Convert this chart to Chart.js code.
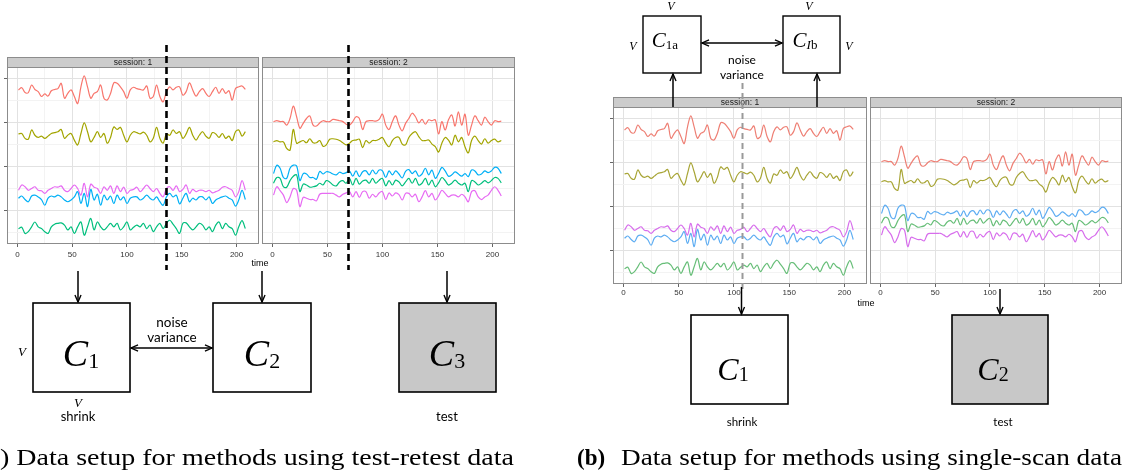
<!DOCTYPE html>
<html>
<head>
<meta charset="utf-8">
<script src="https://cdn.jsdelivr.net/npm/chart.js@4.4.1/dist/chart.umd.min.js"></script>
<style>
html,body{margin:0;padding:0;background:#fff;width:1126px;height:475px;overflow:hidden;position:relative}
canvas.facet{position:absolute;z-index:1}
svg#ov{position:absolute;left:0;top:0;z-index:5}
.v{font-family:"Liberation Serif",serif;font-style:italic;text-anchor:middle;fill:#000}
.sans{font-family:Lato,"Open Sans",sans-serif;text-anchor:middle;fill:#000}
.C{font-family:"Liberation Serif",serif;font-style:italic;text-anchor:middle;fill:#000}
.cap{font-family:"Liberation Serif",serif;font-size:23px;fill:#000}
.axt{font-family:"Liberation Sans",Arial,sans-serif;font-size:9px;text-anchor:middle;fill:#000}
</style>
</head>
<body>
<canvas id="a1" class="facet"></canvas>
<canvas id="a2" class="facet"></canvas>
<canvas id="b1" class="facet"></canvas>
<canvas id="b2" class="facet"></canvas>

<svg id="ov" width="1126" height="475" viewBox="0 0 1126 475">
<defs>
<marker id="ah" viewBox="0 0 10 10" refX="9.6" refY="5" markerWidth="8" markerHeight="8" markerUnits="userSpaceOnUse" orient="auto-start-reverse" overflow="visible">
<path d="M0.8,1.2 L9.6,5 L0.8,8.8" fill="none" stroke="#000" stroke-width="1.7"/>
</marker>
</defs>
<g id="dashes"></g>

<!-- panel (a) diagram -->
<g stroke="#000" stroke-width="1.5" fill="none">
<line x1="78" y1="271" x2="78" y2="302" marker-end="url(#ah)"/>
<line x1="262" y1="271" x2="262" y2="302" marker-end="url(#ah)"/>
<line x1="447" y1="271" x2="447" y2="302" marker-end="url(#ah)"/>
<line x1="131" y1="348" x2="212" y2="348" marker-start="url(#ah)" marker-end="url(#ah)"/>
</g>
<rect x="33" y="303" width="97" height="89" fill="#fff" stroke="#000" stroke-width="1.6"/>
<rect x="213" y="303" width="98" height="89" fill="#fff" stroke="#000" stroke-width="1.6"/>
<rect x="399" y="303" width="97" height="89" fill="#c8c8c8" stroke="#000" stroke-width="1.6"/>
<text class="C" x="81" y="366" font-size="38">C<tspan font-style="normal" font-size="22" dy="2">1</tspan></text>
<text class="C" x="262" y="366" font-size="38">C<tspan font-style="normal" font-size="22" dy="2">2</tspan></text>
<text class="C" x="447" y="366" font-size="38">C<tspan font-style="normal" font-size="22" dy="2">3</tspan></text>
<text class="sans" x="172" y="327" font-size="13.5">noise</text>
<text class="sans" x="172" y="342" font-size="13.5">variance</text>
<text class="v" x="22" y="356" font-size="13">V</text>
<text class="v" x="78" y="407" font-size="13">V</text>
<text class="sans" x="78" y="421" font-size="13">shrink</text>
<text class="sans" x="447" y="421" font-size="13">test</text>
<text class="axt" x="260" y="266">time</text>
<text class="cap" x="0" y="465" text-anchor="end">(a</text>
<text class="cap" x="0" y="465" textLength="514" lengthAdjust="spacingAndGlyphs">) Data setup for methods using test-retest data</text>

<!-- panel (b) diagram -->
<rect x="643" y="16" width="58" height="57" fill="#fff" stroke="#000" stroke-width="1.4"/>
<rect x="783" y="16" width="57" height="57" fill="#fff" stroke="#000" stroke-width="1.4"/>
<g stroke="#000" stroke-width="1.5" fill="none">
<line x1="702" y1="43" x2="782" y2="43" marker-start="url(#ah)" marker-end="url(#ah)"/>
<line x1="673" y1="107" x2="673" y2="74" marker-end="url(#ah)"/>
<line x1="817" y1="107" x2="817" y2="74" marker-end="url(#ah)"/>
<line x1="1000" y1="289" x2="1000" y2="314" marker-end="url(#ah)"/>
</g>
<text class="C" x="665" y="47" font-size="21">C<tspan font-style="normal" font-size="13" dy="2">1a</tspan></text>
<text class="C" x="805" y="47" font-size="21">C<tspan font-size="13" dy="2">I</tspan><tspan font-style="normal" font-size="13">b</tspan></text>
<text class="v" x="671" y="10" font-size="12">V</text>
<text class="v" x="633" y="50" font-size="12">V</text>
<text class="v" x="809" y="10" font-size="12">V</text>
<text class="v" x="849" y="50" font-size="12">V</text>
<text class="sans" x="742" y="64" font-size="12">noise</text>
<text class="sans" x="742" y="79" font-size="12">variance</text>
<rect x="691" y="315" width="97" height="89" fill="#fff" stroke="#000" stroke-width="1.6"/>
<rect x="952" y="315" width="96" height="89" fill="#c8c8c8" stroke="#000" stroke-width="1.6"/>
<text class="C" x="733" y="380" font-size="32">C<tspan font-style="normal" font-size="20" dy="1">1</tspan></text>
<text class="C" x="993" y="380" font-size="32">C<tspan font-style="normal" font-size="20" dy="1">2</tspan></text>
<text class="sans" x="742" y="426" font-size="11.5">shrink</text>
<text class="sans" x="1003" y="426" font-size="11.5">test</text>
<text class="axt" x="866" y="306">time</text>
<text class="cap" x="577" y="465" font-weight="bold">(b)</text>
<text class="cap" x="621" y="465" textLength="501" lengthAdjust="spacingAndGlyphs">Data setup for methods using single-scan data</text>
<g id="arrowsB"></g>
</svg>

<script>
// ---- data ----
const timePoints = [1,4,7,10,13,16,19,22,25,28,31,34,37,40,43,46,49,52,55,58,61,64,67,70,73,76,79,82,85,88,91,94,97,100,103,106,109,112,115,118,121,124,127,130,133,136,139,142,145,148,151,154,157,160,163,166,169,172,175,178,181,184,187,190,193,196,199,202,205,208];

const s1Red = [27.3,27.8,26.7,26.7,28.4,27.4,26.9,25.8,26.4,25.9, 27.1,27.4,27.6,28.8,25.4,26.5,27.3,25.8,24.2,28.0, 30.5,28.0,25.4,26.5,26.9,28.4,25.4,25.0,26.5,28.9, 28.8,28.0,26.9,25.4,27.3,27.9,27.6,27.4,27.3,28.2, 25.4,25.8,28.4,25.8,24.6,26.9,28.0,27.3,27.9,28.0, 26.1,26.9,28.9,27.3,25.9,26.9,27.6,26.5,25.8,26.9, 27.9,26.5,27.6,26.5,27.1,25.0,27.6,28.0,28.2,27.4];
const s1Olive = [17.3,17.4,16.3,16.1,18.2,17.0,16.5,16.8,16.3,16.8, 17.4,17.6,17.8,18.3,16.3,17.0,17.4,15.9,14.8,17.4, 19.8,17.8,15.5,16.5,17.8,16.5,17.4,15.2,16.5,18.9, 18.3,18.8,17.0,15.5,17.0,17.8,17.6,17.3,17.7,17.0, 15.5,16.3,18.8,16.3,15.2,17.3,17.0,18.2,17.4,17.8, 16.3,17.3,18.8,17.0,15.9,17.0,17.8,16.8,16.3,17.6, 17.3,16.5,17.4,16.3,16.8,15.8,17.8,18.2,16.8,17.8];
const s1Green = [-4.2,-3.9,-5.3,-4.9,-3.8,-2.7,-3.8,-4.2,-4.9,-5.3, -3.8,-3.2,-3.0,-2.9,-3.4,-4.5,-3.8,-5.3,-3.8,-2.7, -5.7,-3.8,-1.9,-4.5,-2.7,-3.8,-4.5,-3.8,-3.0,-3.8, -3.0,-4.5,-3.8,-2.7,-4.5,-3.9,-3.4,-3.8,-3.0,-4.2, -3.4,-4.9,-3.8,-3.0,-4.2,-3.0,-2.3,-3.2,-4.2,-5.3, -3.0,-2.9,-3.8,-4.5,-3.8,-3.0,-3.4,-4.5,-3.8,-4.9, -3.4,-2.7,-4.2,-3.0,-3.8,-4.2,-5.7,-3.8,-2.4,-4.2];
const s1Blue = [2.7,3.2,2.4,1.9,3.2,3.4,3.0,2.4,1.1,2.7, 3.2,3.0,3.4,3.0,2.3,1.9,2.3,3.0,4.2,1.5, 3.8,0.8,4.7,2.3,3.6,1.1,3.4,2.3,3.2,1.5, 3.4,2.3,3.0,1.5,2.7,3.0,3.0,2.3,2.7,3.4, 2.7,2.3,3.0,1.9,1.1,3.0,3.8,3.0,3.4,1.4, 2.7,3.8,1.9,2.7,2.3,3.0,3.0,2.3,3.0,1.5, 2.3,2.7,3.0,3.2,2.7,2.3,0.9,2.3,4.5,2.4];
const s1Magenta = [4.5,5.7,5.3,4.5,4.9,5.3,4.5,4.4,3.8,4.5, 4.9,5.3,5.2,5.5,4.5,4.2,4.9,5.7,4.9,3.4, 6.1,3.0,5.9,5.2,4.9,3.8,5.3,4.5,5.5,3.8, 5.5,4.2,5.2,3.8,4.5,4.7,5.2,4.2,4.9,5.7, 4.9,4.2,4.9,3.8,3.0,4.9,5.3,4.5,5.5,4.2, 4.7,5.7,3.8,4.7,4.2,4.5,4.5,4.2,4.5,3.9, 4.2,4.5,5.2,5.3,4.9,4.5,3.0,4.2,6.7,4.5];

const s2Red = [20.1,20.3,20.1,20.1,19.3,20.8,23.6,21.2,18.6,19.7, 20.8,21.4,19.3,19.1,19.8,20.3,20.1,20.1,20.6,20.5, 20.3,20.1,19.5,19.3,20.1,21.2,20.8,18.3,20.1,20.3, 20.3,20.2,20.6,21.8,19.3,18.3,20.1,21.4,19.3,18.0, 19.7,20.8,22.0,21.2,19.8,20.6,19.5,20.5,20.3,20.5, 17.3,20.1,18.2,20.5,21.6,19.1,22.3,19.3,21.8,17.0, 19.3,21.4,20.3,19.3,21.1,20.1,19.3,20.3,20.1,20.2];
const s2Olive = [15.5,15.8,15.5,15.5,14.0,13.6,18.3,15.2,15.5,15.8, 15.3,16.2,15.3,15.3,15.8,14.5,14.8,16.1,16.2,16.1, 15.8,15.3,14.8,15.2,15.8,15.9,16.1,14.2,15.8,15.2, 15.8,15.8,16.1,16.5,15.2,14.4,15.8,16.5,16.5,15.0, 14.8,16.5,17.4,17.8,16.7,15.8,15.8,15.9,15.0,14.4, 13.2,15.2,16.5,15.9,14.8,17.0,15.5,16.5,14.4,13.0, 15.8,16.8,15.8,15.0,16.2,15.2,15.8,16.1,15.5,15.8];
const s2Green = [6.1,7.4,7.2,5.3,5.2,6.7,7.7,8.0,4.2,5.9, 5.7,5.2,5.3,5.5,6.1,5.7,6.7,6.4,5.7,5.5, 6.4,6.7,6.1,7.2,5.7,7.2,5.9,6.6,6.8,6.1, 7.2,6.1,6.8,7.2,5.5,6.7,5.7,6.8,6.4,5.5, 6.4,7.2,6.1,7.2,5.7,6.1,7.2,5.7,6.8,5.3, 6.2,7.4,6.7,5.7,6.1,6.8,6.1,5.7,6.1,4.2, 6.7,6.4,5.7,6.1,6.7,6.2,6.7,7.4,7.2,6.2];
const s2Blue = [8.3,10.2,9.5,7.4,7.2,9.5,10.2,10.0,6.7,8.3, 8.2,7.4,7.4,7.0,8.8,8.2,8.7,8.6,8.2,8.0, 8.6,8.3,8.5,8.9,7.7,8.9,7.6,8.7,8.9,8.0, 9.1,8.2,9.1,8.9,7.4,8.9,8.0,8.9,8.2,7.3, 8.8,9.2,8.3,8.9,7.7,8.2,9.5,8.0,9.1,7.2, 8.3,9.7,8.9,7.7,8.0,8.7,8.2,7.7,8.3,7.6, 9.1,8.9,8.0,8.2,8.9,8.5,8.9,9.7,9.5,8.3];
const s2Magenta = [3.4,5.3,4.4,3.4,1.7,3.0,4.9,4.5,0.8,2.9, 2.7,2.4,2.4,2.1,3.6,3.8,3.8,3.8,3.8,3.4, 3.0,3.6,3.9,4.2,3.0,4.2,2.9,4.2,4.2,2.7, 3.6,3.0,3.9,4.2,2.4,3.9,3.2,3.9,3.5,2.3, 3.8,3.8,3.0,3.6,1.9,3.0,4.4,3.0,3.8,2.3, 3.2,4.5,3.8,3.0,3.4,3.4,3.0,3.6,3.0,1.9, 4.2,4.4,3.0,2.4,3.0,3.4,4.5,5.3,4.5,3.2];

const seriesNames = ['red','olive','green','blue','magenta'];
const xMajorTicks = [0,50,100,150,200];
const xMinorTicks = [25,75,125,175];
const yMajorTicks = [0,10,20,30];
const yMinorTicks = [-5,5,15,25];
const xRange = [-9.45, 220.45];
const yRange = [-7.7, 32.5];
const splitTimes = {a1:136, a2:69, b1:107};

// ---- styles / layout ----
const colorsA = ['#F8766D','#A3A500','#00BF7D','#00B0F6','#E76BF3'];
const colorsB = ['#EE7F74','#A8A536','#67BE78','#5EADF2','#D76DEC'];
const session1 = [s1Red,s1Olive,s1Green,s1Blue,s1Magenta];
const session2 = [s2Red,s2Olive,s2Green,s2Blue,s2Magenta];

const facets = [
  {id:'a1', left:7,   top:57, w:252, label:'session: 1', series:session1, colors:colorsA, yTicks:true,  pad:3},
  {id:'a2', left:262, top:57, w:253, label:'session: 2', series:session2, colors:colorsA, yTicks:false, pad:3},
  {id:'b1', left:613, top:97, w:254, label:'session: 1', series:session1, colors:colorsB, yTicks:true,  pad:1},
  {id:'b2', left:870, top:97, w:252, label:'session: 2', series:session2, colors:colorsB, yTicks:false, pad:1}
];

const facetFrame = {
  id:'facetFrame',
  afterDraw(chart, args, opts){
    const ctx = chart.ctx, ca = chart.chartArea;
    ctx.save();
    ctx.strokeStyle = '#8c8c8c'; ctx.lineWidth = 1;
    ctx.strokeRect(ca.left+0.5, ca.top+0.5, ca.width-1, ca.height-1);
    ctx.fillStyle = '#cccccc';
    ctx.fillRect(ca.left, 0, ca.width, ca.top);
    ctx.strokeRect(ca.left+0.5, 0.5, ca.width-1, ca.top);
    ctx.fillStyle = '#1a1a1a';
    ctx.font = '8.5px "Liberation Sans", Arial, sans-serif';
    ctx.textAlign = 'center'; ctx.textBaseline = 'middle';
    ctx.fillText(opts.label, (ca.left+ca.right)/2, ca.top/2+0.5);
    ctx.restore();
  }
};

const xGridValues = xMajorTicks.concat(xMinorTicks).sort((a,b)=>a-b);
const yGridValues = yMajorTicks.concat(yMinorTicks).sort((a,b)=>a-b);

function makeFacet(f){
  const cv = document.getElementById(f.id);
  const W = f.w + 5, H = 207;
  cv.width = W; cv.height = H;
  cv.style.width = W+'px'; cv.style.height = H+'px';
  cv.style.left = (f.left-4)+'px'; cv.style.top = f.top+'px';
  const datasets = seriesNames.map((name,i)=>({
    label:name,
    data: timePoints.map((t,k)=>({x:t, y:f.series[i][k]})),
    borderColor:f.colors[i], borderWidth:1.2, pointRadius:0, tension:0.35, fill:false
  }));
  return new Chart(cv, {
    type:'line',
    data:{datasets},
    plugins:[facetFrame],
    options:{
      responsive:false, animation:false, devicePixelRatio:1,
      layout:{padding:{top:10,right:1,left:0,bottom:0}},
      plugins:{legend:{display:false}, tooltip:{enabled:false}, facetFrame:{label:f.label}},
      scales:{
        x:{
          type:'linear', min:xRange[0], max:xRange[1],
          afterBuildTicks: s => { s.ticks = xGridValues.map(v=>({value:v})); },
          afterFit: s => { s.height = 20; },
          border:{display:false},
          ticks:{autoSkip:false, maxRotation:0, padding:f.pad, color:'#333',
                 font:{family:'"Liberation Sans", Arial, sans-serif', size:8},
                 callback: v => xMajorTicks.includes(v) ? String(v) : ''},
          grid:{
            color: c => xMajorTicks.includes(c.tick.value) ? '#e2e2e2' : '#f3f3f3',
            lineWidth:1, drawTicks:true, tickLength:3,
            tickColor: c => xMajorTicks.includes(c.tick.value) ? '#666' : 'rgba(0,0,0,0)'
          }
        },
        y:{
          type:'linear', min:yRange[0], max:yRange[1],
          afterBuildTicks: s => { s.ticks = yGridValues.map(v=>({value:v})); },
          afterFit: s => { s.width = 4; },
          border:{display:false},
          ticks:{display:false},
          grid:{
            color: c => yMajorTicks.includes(c.tick.value) ? '#e2e2e2' : '#f3f3f3',
            lineWidth:1, drawTicks:true, tickLength:3,
            tickColor: c => (f.yTicks && yMajorTicks.includes(c.tick.value)) ? '#666' : 'rgba(0,0,0,0)'
          }
        }
      }
    }
  });
}

const charts = facets.map(makeFacet);

// split markers drawn through the library's x scales
const NS = 'http://www.w3.org/2000/svg';
const dashG = document.getElementById('dashes');
function svgLine(parent, x1,y1,x2,y2, attrs){
  const l = document.createElementNS(NS,'line');
  l.setAttribute('x1',x1); l.setAttribute('y1',y1); l.setAttribute('x2',x2); l.setAttribute('y2',y2);
  for (const k in attrs) l.setAttribute(k, attrs[k]);
  parent.appendChild(l);
}
charts.forEach((c,i)=>{
  const f = facets[i];
  const t = splitTimes[f.id];
  if (t === undefined) return;
  const x = Math.round(f.left - 4 + c.scales.x.getPixelForValue(t)) + 0.5;
  if (f.id[0] === 'a') {
    svgLine(dashG, x, 45, x, 270, {stroke:'#000','stroke-width':2.6,'stroke-dasharray':'7 4'});
  } else {
    svgLine(dashG, x, 83, x, 290, {stroke:'#999','stroke-width':2,'stroke-dasharray':'6 4'});
    svgLine(document.getElementById('arrowsB'), x-1, 287, x-1, 314, {stroke:'#000','stroke-width':1.5,'marker-end':'url(#ah)'});
  }
});
</script>
</body>
</html>
